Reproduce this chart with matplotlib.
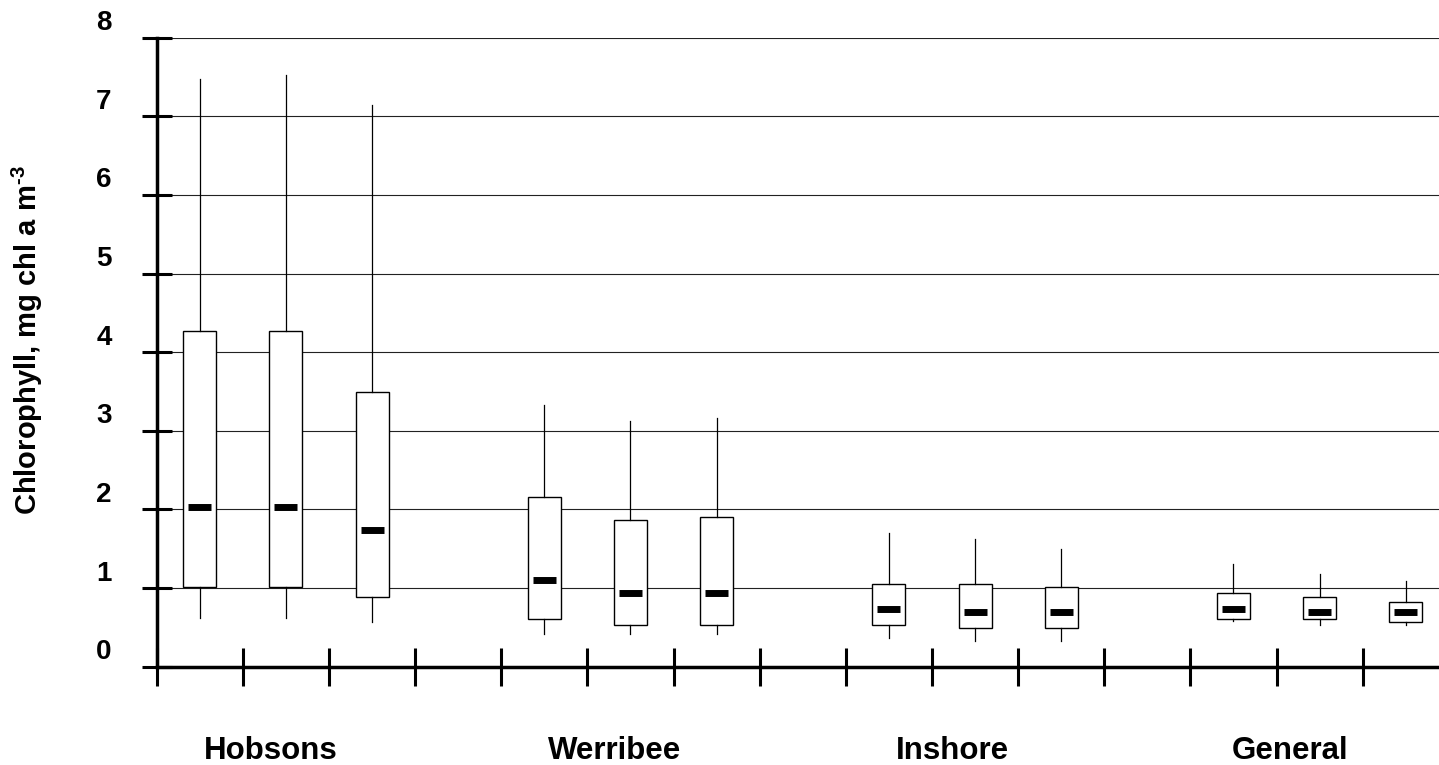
#!/usr/bin/env python
#*******************************************************************************
#plot.py
#*******************************************************************************

#Purpose:
#Box plots of chlorophyll concentrations (mg chl a m-3) for four regions, three
#boxes each, drawn from the quartiles and whisker ends.


#*******************************************************************************
#Import Python modules
#*******************************************************************************
import numpy
import matplotlib
matplotlib.use('Agg')
import matplotlib.pyplot as plt
import matplotlib.transforms as mtransforms


#*******************************************************************************
#Declaration of variables
#*******************************************************************************
YV_reg=['Hobsons','Werribee','Inshore','General']

#Slots on the x axis (one empty slot between regions)
ZV_pos=[0.5,1.5,2.5, 4.5,5.5,6.5, 8.5,9.5,10.5, 12.5,13.5,14.5]
ZV_lab_pos=[1.32,5.31,9.24,13.16]

ZV_whi_hi=[7.48,7.52,7.15, 3.33,3.12,3.16, 1.70,1.63,1.50, 1.30,1.18,1.09]
ZV_q3    =[4.27,4.27,3.49, 2.16,1.87,1.91, 1.05,1.05,1.02, 0.94,0.89,0.82]
ZV_med   =[2.03,2.03,1.74, 1.10,0.94,0.94, 0.73,0.69,0.69, 0.73,0.69,0.69]
ZV_q1    =[1.02,1.02,0.89, 0.61,0.53,0.53, 0.53,0.49,0.49, 0.61,0.61,0.57]
ZV_whi_lo=[0.62,0.62,0.57, 0.42,0.42,0.42, 0.37,0.33,0.33, 0.58,0.53,0.53]

IV_yti=[0,1,2,3,4,5,6,7,8]

YS_ylab='Chlorophyll, mg chl a m$^{\\text{-3}}$'


#*******************************************************************************
#Figure setup
#*******************************************************************************
plt.rcParams['font.family']=['Liberation Sans','DejaVu Sans']
plt.rcParams['font.weight']='bold'
plt.rcParams['mathtext.fontset']='custom'
plt.rcParams['mathtext.rm']='Liberation Sans:bold'
plt.rcParams['mathtext.bf']='Liberation Sans:bold'

fig=plt.figure(figsize=(14.39,7.65),dpi=100)
ax=fig.add_axes([0.1089,0.1285,0.8911,0.8222])


#*******************************************************************************
#Box plots
#*******************************************************************************
IS_box=len(ZV_pos)
stats=[]
for JS_box in range(IS_box):
     stats.append({'whislo':ZV_whi_lo[JS_box],'q1':ZV_q1[JS_box],             \
                   'med':ZV_med[JS_box],'q3':ZV_q3[JS_box],                   \
                   'whishi':ZV_whi_hi[JS_box],'fliers':[]})

ax.bxp(stats,positions=ZV_pos,widths=0.383,patch_artist=True,                 \
       showcaps=False,showfliers=False,manage_ticks=False,                    \
       boxprops={'facecolor':'white','edgecolor':'black','linewidth':1.0},    \
       whiskerprops={'color':'black','linewidth':0.9},                        \
       medianprops={'visible':False},zorder=3)

#Short thick median bars
ZV_p=numpy.array(ZV_pos)
ax.hlines(ZV_med,ZV_p-0.134,ZV_p+0.134,colors='black',linewidth=5,            \
          capstyle='butt',zorder=4)


#*******************************************************************************
#Axes
#*******************************************************************************
ax.set_xlim(0,14.886)
ax.set_ylim(0,8)

ax.spines['top'].set_visible(False)
ax.spines['right'].set_visible(False)
ax.spines['left'].set_linewidth(2.5)
ax.spines['bottom'].set_linewidth(2.5)

ax.set_yticks(IV_yti)
ax.set_yticklabels([str(i) for i in IV_yti])
ax.tick_params(axis='y',direction='inout',length=21,width=2.2,pad=22,         \
               labelsize=20)

ax.set_xticks(numpy.arange(0,15))
ax.set_xticklabels([])
ax.tick_params(axis='x',which='major',direction='inout',length=27.4,          \
               width=2.2)
ax.set_xticks(ZV_lab_pos,minor=True)
ax.set_xticklabels(YV_reg,minor=True)
ax.tick_params(axis='x',which='minor',length=0,pad=50,labelsize=22.5)

#Tick labels sit above their ticks in the original
offset=mtransforms.ScaledTranslation(0,0.175,fig.dpi_scale_trans)
for tick in ax.yaxis.get_major_ticks():
     tick.label1.set_transform(tick.label1.get_transform()+offset)

ax.yaxis.grid(True,color='#222222',linewidth=0.8)
ax.set_axisbelow(True)

ax.set_ylabel(YS_ylab,fontsize=21,fontweight='bold',va='center')
ax.yaxis.set_label_coords(-0.101,0.519)


#*******************************************************************************
#Save
#*******************************************************************************
plt.savefig('out.png',dpi=100)


#*******************************************************************************
#End
#*******************************************************************************
